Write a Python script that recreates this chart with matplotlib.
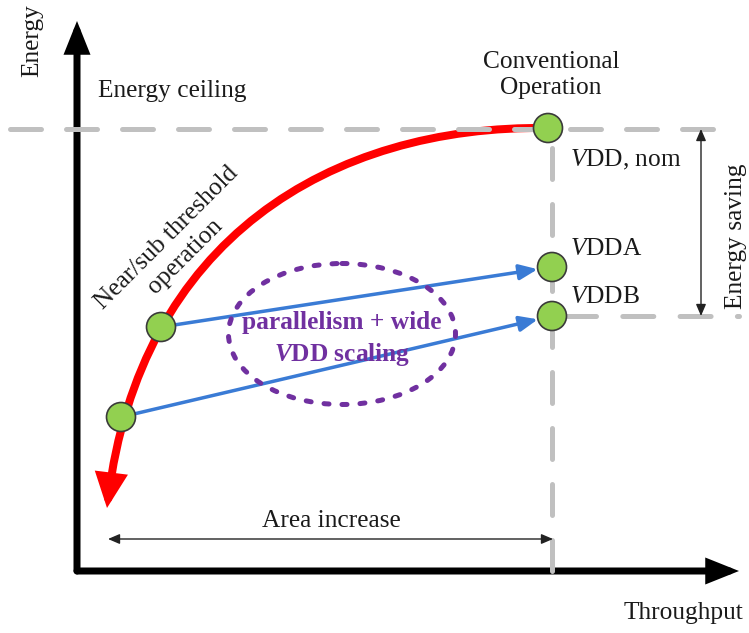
import numpy as np
import matplotlib.pyplot as plt
from matplotlib.patches import Circle, Ellipse, FancyArrowPatch
from matplotlib.path import Path

plt.rcParams['font.family'] = ['Liberation Serif', 'DejaVu Serif']
plt.rcParams['mathtext.fontset'] = 'custom'
plt.rcParams['mathtext.rm'] = 'Liberation Serif'
plt.rcParams['mathtext.it'] = 'Liberation Serif:italic'
plt.rcParams['mathtext.bf'] = 'Liberation Serif:italic:bold'

# canvas is in pixel units, y grows downwards
W, H = 749, 633

# operating points (green circles): nominal, VDDA, VDDB, near-threshold 1 and 2
point_x = [548, 552, 552, 161, 121]
point_y = [128, 267, 316, 327, 417]

# red energy/throughput curve, cubic bezier control points
curve_x = [548, 330, 140, 107]
curve_y = [128, 125, 240, 508]

# blue arrows: index of start point -> index of end point
blue_from = [3, 4]
blue_to = [1, 2]

ceiling_y = 129
saving_y = 316
nominal_x = 552
origin = (77, 571)
x_tip = 739
y_tip = 21

TXT = '#1a1a1a'
GRAY = '#c0c0c0'
PURPLE = '#7030a0'
BLUE = '#3a7bd5'
GREEN = '#92d050'

fig = plt.figure(figsize=(W / 100, H / 100), dpi=100)
ax = fig.add_axes([0, 0, 1, 1])
ax.set_xlim(0, W)
ax.set_ylim(H, 0)
ax.axis('off')

px = 72 / 100  # points per pixel


def arrow(p0, p1, style, lw, color, z, shrink=0, **kw):
    a = FancyArrowPatch(p0, p1, arrowstyle=style, mutation_scale=1,
                        lw=lw, color=color, zorder=z, shrinkA=0, shrinkB=shrink, **kw)
    ax.add_patch(a)
    return a


# axes
arrow(origin, (origin[0], y_tip), '-|>,head_length=15,head_width=6', 7 * px, 'k', 1,
      joinstyle='miter', capstyle='round')
arrow(origin, (x_tip, origin[1]), '-|>,head_length=15,head_width=6', 7 * px, 'k', 1,
      joinstyle='miter', capstyle='round')

# red curve
verts = list(zip(curve_x, curve_y))
red_path = Path(verts, [Path.MOVETO, Path.CURVE4, Path.CURVE4, Path.CURVE4])
red = FancyArrowPatch(path=red_path, arrowstyle='-|>,head_length=16,head_width=7.5',
                      mutation_scale=1, lw=8 * px, color='#ff0000', zorder=2,
                      joinstyle='miter')
ax.add_patch(red)

# gray dashed guide lines
dash_kw = dict(color=GRAY, lw=5 * px, dash_capstyle='round', zorder=3)
ln, = ax.plot([10, 716], [ceiling_y, ceiling_y], **dash_kw)
ln.set_dashes([6.2, 5.0])
ln, = ax.plot([565, 739], [saving_y, saving_y], **dash_kw)
ln.set_dashes([6.2, 5.26])
ln, = ax.plot([nominal_x, nominal_x], [origin[1], ceiling_y], **dash_kw)
ln.set_dashes([6.2, 5.0])

# blue arrows
r = 14.5
for i, j in zip(blue_from, blue_to):
    arrow((point_x[i], point_y[i]), (point_x[j], point_y[j]),
          '-|>,head_length=11,head_width=4.6', 3.5 * px, BLUE, 3, shrink=r * px)

# purple dashed ellipse
ell = Ellipse((342, 334), 227, 141, fill=False, ec=PURPLE, lw=5 * px, zorder=3,
              ls=(0, (1.0, 2.6)), capstyle='round')
ax.add_patch(ell)

# green circles
for x, y in zip(point_x, point_y):
    ax.add_patch(Circle((x, y), r, fc=GREEN, ec='#3a3a3a', lw=1.2, zorder=5))

# dimension arrows
arrow((108, 539), (553, 539), '<|-|>,head_length=7,head_width=3', 1.0, '#222222', 4)
arrow((701, ceiling_y), (701, saving_y), '<|-|>,head_length=7,head_width=3', 1.0, '#222222', 4)

# texts
fs = 18.3
ax.text(32, 41, 'Energy', rotation=90, ha='center', va='center', fontsize=fs, color=TXT)
ax.text(683, 613, 'Throughput', ha='center', va='center', fontsize=fs, color=TXT)
ax.text(172, 91, 'Energy ceiling', ha='center', va='center', fontsize=fs, color=TXT)
ax.text(551, 75, 'Conventional\nOperation', ha='center', va='center', fontsize=fs,
        color=TXT, linespacing=1.2)
ax.text(176, 247, 'Near/sub threshold\noperation', rotation=45, ha='center', va='center',
        fontsize=fs, color=TXT, linespacing=1.2, rotation_mode='anchor')
ax.text(570, 160, r'$V$DD, nom', ha='left', va='center', fontsize=fs, color=TXT)
ax.text(570, 249, r'$V$DDA', ha='left', va='center', fontsize=fs, color=TXT)
ax.text(570, 297, r'$V$DDB', ha='left', va='center', fontsize=fs, color=TXT)
ax.text(736, 236, 'Energy saving', rotation=90, ha='center', va='center', fontsize=fs,
        color=TXT)
ax.text(331, 521, 'Area increase', ha='center', va='center', fontsize=fs, color=TXT)
ax.text(342, 323, 'parallelism + wide', ha='center', va='center', fontsize=fs,
        color=PURPLE, fontweight='bold', zorder=6)
ax.text(342, 354, r'$\mathbf{V}$DD scaling', ha='center', va='center', fontsize=fs,
        color=PURPLE, fontweight='bold', zorder=6)

fig.savefig('out.png', dpi=100)
